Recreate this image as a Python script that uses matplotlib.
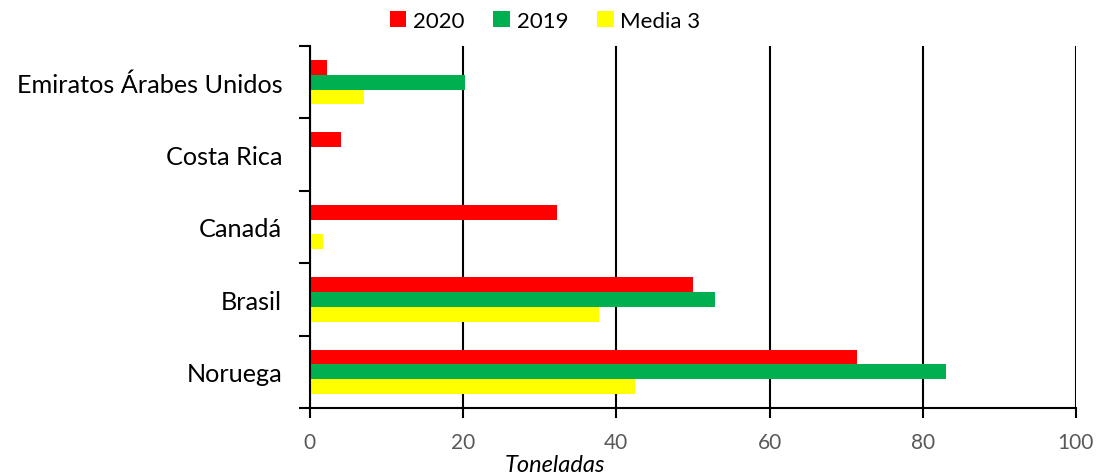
import matplotlib.pyplot as plt
import numpy as np

paises = ['Noruega', 'Brasil', 'Canadá', 'Costa Rica', 'Emiratos Árabes Unidos']
v2020 = [71.4, 50.0, 32.3, 4.0, 2.2]
v2019 = [83.1, 52.9, 0, 0, 20.2]
media3 = [42.5, 37.7, 1.7, 0, 7.0]
xticks = [0, 20, 40, 60, 80, 100]

plt.rcParams['font.family'] = ['Lato', 'DejaVu Sans']

fig = plt.figure(figsize=(10.99, 4.77), dpi=100)
ax = fig.add_axes([0.282, 0.1426, 0.697, 0.759])

y = np.arange(len(paises))
h = 0.205
ax.barh(y + h, v2020, height=h, color='#ff0000', label='2020', zorder=3)
ax.barh(y, v2019, height=h, color='#00b050', label='2019', zorder=3)
ax.barh(y - h, media3, height=h, color='#ffff00', label='Media 3', zorder=3)

ax.set_xlim(0, 100)
ax.set_ylim(-0.5, len(paises) - 0.5)
ax.set_xticks(xticks)
ax.tick_params(axis='x', labelsize=15, labelcolor='#595959', length=7, width=1.5,
               direction='out', pad=10)
ax.set_yticks(y)
ax.set_yticklabels(paises)
ax.tick_params(axis='y', which='major', length=0, labelsize=18.2, pad=20)
ax.set_yticks(np.arange(-0.5, len(paises)), minor=True)
ax.tick_params(axis='y', which='minor', length=8, width=1.5, direction='out')
ax.grid(axis='x', color='black', linewidth=1.5, zorder=1)
for s in ['top', 'right']:
    ax.spines[s].set_visible(False)
for s in ['left', 'bottom']:
    ax.spines[s].set_linewidth(1.5)
    ax.spines[s].set_zorder(4)
ax.set_xlabel('Toneladas', fontsize=17, style='italic')
ax.xaxis.set_label_coords(0.32, -0.127)

ax.legend(loc='center', bbox_to_anchor=(0.307, 1.07), ncol=3, frameon=False,
          fontsize=16, handlelength=0.75, handleheight=0.75, handletextpad=0.3,
          columnspacing=1.3)

fig.savefig('out.png', dpi=100)
